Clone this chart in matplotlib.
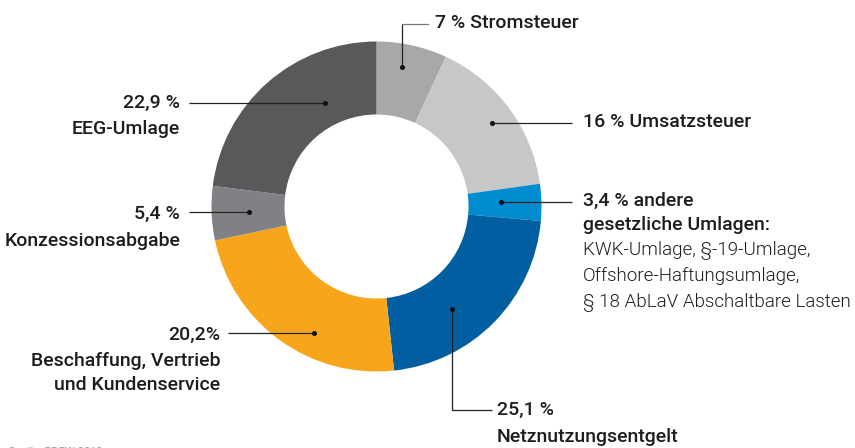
import matplotlib.pyplot as plt

# === Daten ===
labels = ["Stromsteuer", "Umsatzsteuer", "andere gesetzliche Umlagen", "Netznutzungsentgelt",
          "Beschaffung, Vertrieb und Kundenservice", "Konzessionsabgabe", "EEG-Umlage"]
# Anteile laut Beschriftung
pct_labels = ["7 %", "16 %", "3,4 %", "25,1 %", "20,2%", "5,4 %", "22,9 %"]
# Anteile so, wie die Segmente in der Vorlage gezeichnet sind
values = [6.9, 15.9, 3.6, 21.9, 23.4, 5.3, 23.0]
colors = ["#a7a8aa", "#c6c7c8", "#008ccf", "#005ea1", "#f8a51c", "#808184", "#58595b"]

W, H = 855, 448
FONT = "Roboto"
TXT = "#1d1d1b"


def fy(y):
    # Pixel-y (oben=0) in Datenkoordinaten umrechnen
    return H - y


fig = plt.figure(figsize=(W / 100, H / 100), dpi=100)
ax = fig.add_axes([0, 0, 1, 1])

# === Ring ===
ax.pie(values, colors=colors, startangle=90, counterclock=False,
       center=(376.5, fy(206.5)), radius=165, frame=True,
       wedgeprops=dict(width=73, linewidth=0))
ax.set_xlim(0, W)
ax.set_ylim(0, H)
ax.set_aspect("equal")
ax.axis("off")


def leader(points, color="#222222"):
    xs = [p[0] for p in points]
    ys = [fy(p[1]) for p in points]
    ax.plot(xs, ys, color=color, lw=0.9, solid_capstyle="butt", zorder=3)
    ax.plot(xs[0], ys[0], "o", color="#111111", ms=2.6, zorder=4)


def txt(x, y, s, ha="left", bold=True, size=14):
    ax.text(x, fy(y), s, ha=ha, va="center", fontsize=size, color=TXT,
            family=FONT, fontweight=500 if bold else 300)


# === Beschriftungen ===
leader([(402, 67), (402, 24)])
ax.plot([402, 428], [fy(24), fy(24)], color="#777777", lw=0.9, zorder=3)
txt(435, 23, pct_labels[0] + " " + labels[0])

leader([(492, 123), (572, 123)])
txt(583, 122, pct_labels[1] + " " + labels[1])

leader([(501, 202), (572, 202)])
txt(583, 201, pct_labels[2] + " andere")
txt(583, 225, "gesetzliche Umlagen:")
txt(583, 250, "KWK-Umlage, §-19-Umlage,", bold=False, size=13.5)
txt(583, 276, "Offshore-Haftungsumlage,", bold=False, size=13.5)
txt(583, 302, "§ 18 AbLaV Abschaltbare Lasten", bold=False, size=13.5)

leader([(452, 309), (452, 410), (492, 410)])
txt(497, 410, pct_labels[3])
txt(497, 437, labels[3])

leader([(325, 103), (189, 103)])
txt(180, 103, pct_labels[6], ha="right")
txt(180, 129, labels[6], ha="right")

leader([(249, 212), (189, 212)])
txt(180, 214, pct_labels[5], ha="right")
txt(180, 241, labels[5], ha="right")

leader([(314, 333), (228, 333)])
txt(220, 335, pct_labels[4], ha="right")
txt(220, 361, "Beschaffung, Vertrieb", ha="right")
txt(220, 385, "und Kundenservice", ha="right")

ax.text(8, fy(452), "Quelle: BDEW 2019", ha="left", va="center", fontsize=8,
        color="#9a9a9a", family=FONT)

fig.savefig("out.png", dpi=100)
